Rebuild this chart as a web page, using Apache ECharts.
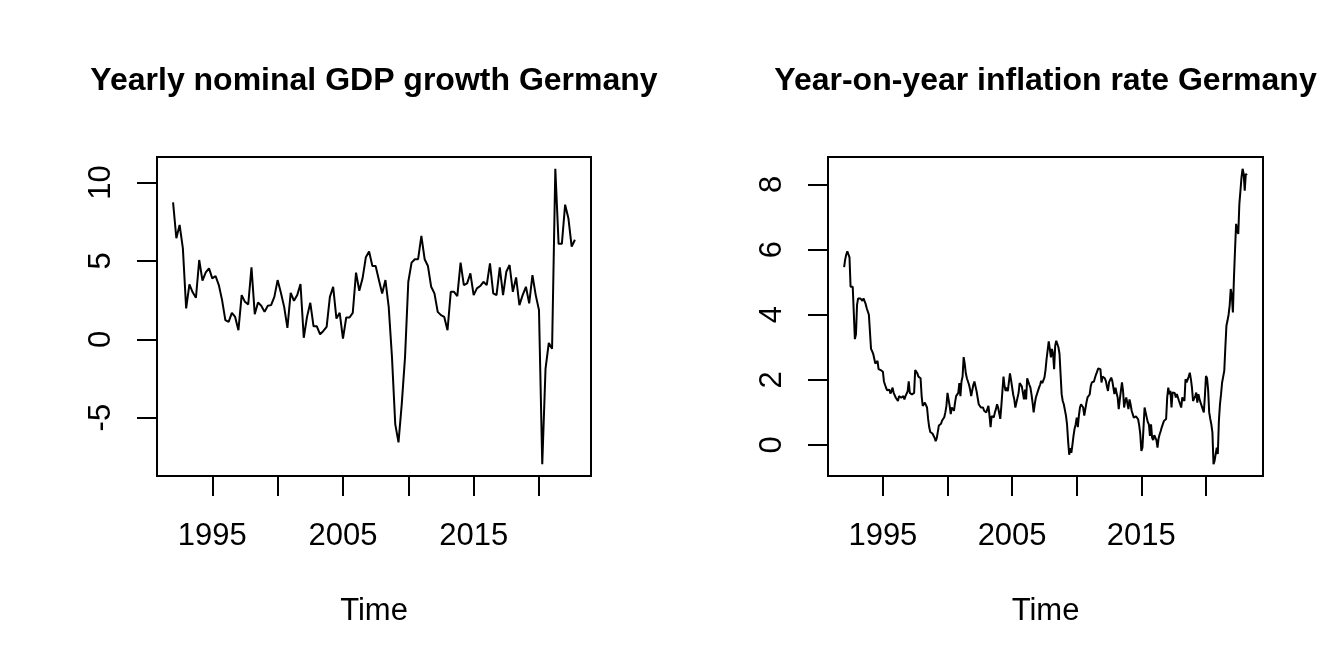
<!DOCTYPE html>
<html>
<head>
<meta charset="utf-8">
<script src="https://cdn.jsdelivr.net/npm/echarts@6/dist/echarts.min.js"></script>
<style>
html,body{margin:0;padding:0;background:#fff;}
#chart{width:1344px;height:672px;}
</style>
</head>
<body>
<div id="chart"></div>
<script>
// ---- Data ----
var titles = ["Yearly nominal GDP growth Germany", "Year-on-year inflation rate Germany"];
var xAxisTitle = "Time";

// Quarterly nominal GDP growth, 1992 Q1 .. 2022 Q4
var gdpStart = 1992;
var gdpFreq = 4;
var gdpValues = [
  8.74, 6.45, 7.3, 5.8,
  1.97, 3.5, 3.0, 2.65,
  5.06, 3.74, 4.27, 4.53,
  3.89, 4.04, 3.46, 2.5,
  1.22, 1.11, 1.69, 1.43,
  0.58, 2.82, 2.39, 2.22,
  4.59, 1.6, 2.35, 2.14,
  1.75, 2.14, 2.18, 2.71,
  3.78, 2.97, 2.07, 0.73,
  2.97, 2.46, 2.82, 3.53,
  0.1, 1.43, 2.33, 0.83,
  0.83, 0.32, 0.53, 0.79,
  2.71, 3.35, 1.32, 1.69,
  0.04, 1.39, 1.39, 1.69,
  4.25, 3.1, 3.89, 5.23,
  5.6, 4.68, 4.68, 3.78,
  2.93, 3.78, 2.07, -1.13,
  -5.41, -6.58, -4.12, -1.13,
  3.67, 4.89, 5.11, 5.11,
  6.6, 5.11, 4.68, 3.35,
  2.93, 1.75, 1.54, 1.43,
  0.58, 3.03, 3.03, 2.76,
  4.89, 3.46, 3.57, 4.21,
  2.82, 3.25, 3.4, 3.67,
  3.46, 4.85, 2.93, 2.82,
  4.59, 2.82, 4.31, 4.74,
  3.03, 3.95, 2.18, 2.82,
  3.35, 2.29, 4.1, 2.82,
  1.86, -7.97, -1.88, -0.23,
  -0.6, 10.88, 6.09, 6.09,
  8.59, 7.73, 5.92, 6.35
];

// Monthly year-on-year inflation, Jan 1992 .. Mar 2023
var inflStart = 1992;
var inflFreq = 12;
var inflValues = [
  5.46, 5.7, 5.85, 5.95, 6.0, 5.76, 4.86, 4.86, 4.86, 4.8, 3.25, 3.4,
  4.3, 4.5, 4.55, 4.5, 4.55, 4.43, 4.5, 4.45, 4.33, 4.2, 4.1, 4.0,
  4.0, 2.95, 2.88, 2.8, 2.65, 2.5, 2.45, 2.58, 2.33, 2.3, 2.3, 2.28,
  2.25, 1.95, 1.85, 1.75, 1.68, 1.72, 1.7, 1.58, 1.65, 1.76, 1.6, 1.55,
  1.45, 1.4, 1.35, 1.5, 1.55, 1.45, 1.5, 1.5, 1.4, 1.5, 1.55, 1.65,
  1.95, 1.6, 1.55, 1.55, 1.5, 1.6, 2.3, 2.3, 2.2, 2.1, 2.1, 2.05,
  1.5, 1.2, 1.15, 1.3, 1.35, 1.15, 0.8, 0.55, 0.4, 0.45, 0.35, 0.3,
  0.22, 0.12, 0.2, 0.4, 0.6, 0.55, 0.65, 0.75, 0.8, 0.85, 1.0, 1.2,
  1.6, 1.55, 1.2, 0.95, 1.15, 1.2, 1.05, 1.3, 1.5, 1.55, 1.6, 1.9,
  1.5, 1.95, 2.1, 2.7, 2.5, 2.2, 2.05, 2.0, 1.85, 1.7, 1.5, 1.45,
  1.85, 1.95, 1.8, 1.65, 1.45, 1.25, 1.2, 1.15, 1.2, 1.15, 1.05, 1.1,
  1.0, 0.94, 1.2, 0.9, 0.55, 0.89, 0.89, 0.85, 1.0, 1.1, 1.25, 1.15,
  1.1, 0.8, 1.2, 1.66, 2.1, 1.8, 1.66, 1.76, 1.65, 1.6, 2.2, 2.0,
  1.97, 1.55, 1.4, 1.15, 1.3, 1.35, 1.6, 1.9, 1.85, 1.8, 1.6, 1.4,
  1.7, 1.4, 2.05, 1.95, 1.85, 1.76, 1.55, 1.3, 1.0, 1.25, 1.45, 1.5,
  1.66, 1.76, 1.85, 1.97, 1.9, 1.95, 2.07, 2.3, 2.64, 2.7, 3.18, 2.95,
  2.69, 2.95, 2.8, 2.33, 3.05, 3.2, 3.15, 3.0, 2.8, 2.17, 1.56, 1.35,
  1.25, 1.3, 0.9, 0.63, 0.12, -0.3, -0.1, -0.24, 0.0, 0.28, 0.5, 0.63,
  0.84, 0.55, 0.9, 1.15, 1.25, 1.2, 1.15, 0.9, 1.1, 1.3, 1.46, 1.5,
  1.55, 1.8, 1.92, 1.9, 1.95, 2.07, 2.17, 2.2, 2.35, 2.3, 2.33, 1.92,
  2.1, 2.07, 2.05, 1.97, 1.8, 1.66, 1.92, 2.0, 2.07, 1.97, 1.92, 1.56,
  1.76, 1.6, 1.46, 1.1, 1.4, 1.66, 1.92, 1.66, 1.15, 1.35, 1.46, 1.51,
  1.1, 1.4, 1.25, 1.05, 1.1, 0.84, 0.9, 0.88, 0.87, 0.79, 0.6, 0.33,
  -0.18, -0.08, 0.53, 1.15, 1.0, 0.84, 0.7, 0.63, 0.28, 0.63, 0.22, 0.15,
  0.3, 0.33, 0.15, -0.08, 0.2, 0.33, 0.43, 0.55, 0.58, 0.74, 0.74, 0.8,
  1.46, 1.76, 1.56, 1.66, 1.15, 1.61, 1.66, 1.6, 1.46, 1.56, 1.5, 1.35,
  1.25, 1.15, 1.46, 1.4, 1.35, 2.02, 1.92, 1.92, 2.1, 2.22, 2.02, 1.76,
  1.35, 1.35, 1.5, 1.61, 1.3, 1.56, 1.41, 1.3, 1.25, 1.1, 1.0, 1.5,
  2.12, 2.05, 1.7, 1.0, 0.8, 0.63, 0.38, -0.59, -0.49, -0.28, -0.08, -0.28,
  0.74, 1.25, 1.56, 1.92, 2.1, 2.28, 3.0, 3.66, 3.82, 4.0, 4.28, 4.79,
  4.6, 4.07, 5.15, 6.0, 6.79, 6.6, 6.48, 7.4, 7.8, 8.22, 8.48, 8.33,
  7.81, 8.33, 8.28
];

// Tick positions / labels
var xTickValues = [1995, 2000, 2005, 2010, 2015, 2020];
var xLabelValues = [1995, 2005, 2015];
var gdpYTicks = [-5, 0, 5, 10];
var inflYTicks = [0, 2, 4, 6, 8];

// ---- Build ----
function toPairs(start, freq, vals) {
  return vals.map(function (v, i) { return [start + i / freq, v]; });
}
function extRange(arr) { // R-style 4% extension
  var lo = Math.min.apply(null, arr), hi = Math.max.apply(null, arr);
  var d = (hi - lo) * 0.04;
  return [lo - d, hi + d];
}
var gdpData = toPairs(gdpStart, gdpFreq, gdpValues);
var inflData = toPairs(inflStart, inflFreq, inflValues);
var gdpX = extRange(gdpData.map(function (p) { return p[0]; }));
var inflX = extRange(inflData.map(function (p) { return p[0]; }));
var gdpY = extRange(gdpValues);
var inflY = extRange(inflValues);

var FONT = '"Liberation Sans", Arial, Helvetica, sans-serif';
var grids = [
  { left: 157, top: 157, width: 434, height: 319 },
  { left: 828, top: 157, width: 435, height: 319 }
];

function makeX(idx, range) {
  return {
    type: 'value', gridIndex: idx, min: range[0], max: range[1], position: 'bottom',
    axisLine: { show: false, onZero: false },
    splitLine: { show: false },
    axisTick: { show: true, customValues: xTickValues, length: 20, inside: false,
      lineStyle: { color: '#000', width: 2 } },
    axisLabel: { show: true, customValues: xLabelValues, margin: 45, color: '#000',
      fontSize: 31, fontFamily: FONT, formatter: function (v) { return String(v); } }
  };
}
function makeY(idx, range, ticks) {
  return {
    type: 'value', gridIndex: idx, min: range[0], max: range[1], position: 'left',
    axisLine: { show: false, onZero: false },
    splitLine: { show: false },
    axisTick: { show: true, customValues: ticks, length: 20, inside: false,
      lineStyle: { color: '#000', width: 2 } },
    axisLabel: { show: true, customValues: ticks, rotate: 90, margin: 40, color: '#000',
      fontSize: 31, fontFamily: FONT, formatter: function (v) { return String(v); } }
  };
}

var graphics = [];
[0, 1].forEach(function (i) {
  var g = grids[i];
  var cx = g.left + g.width / 2;
  graphics.push({ type: 'text', x: cx, y: 81, style: { text: titles[i], fill: '#000',
    font: 'bold 32px ' + FONT, textAlign: 'center', textVerticalAlign: 'middle' } });
  graphics.push({ type: 'text', x: cx, y: 611, style: { text: xAxisTitle, fill: '#000',
    font: '31px ' + FONT, textAlign: 'center', textVerticalAlign: 'middle' } });
});

var chart = echarts.init(document.getElementById('chart'), null, { renderer: 'canvas' });
chart.setOption({
  animation: false,
  backgroundColor: '#fff',
  grid: grids.map(function (g) {
    return Object.assign({ show: true, borderColor: '#000', borderWidth: 2,
      backgroundColor: 'transparent', containLabel: false }, g);
  }),
  xAxis: [makeX(0, gdpX), makeX(1, inflX)],
  yAxis: [makeY(0, gdpY, gdpYTicks), makeY(1, inflY, inflYTicks)],
  series: [
    { type: 'line', xAxisIndex: 0, yAxisIndex: 0, data: gdpData, showSymbol: false,
      lineStyle: { color: '#000', width: 2 }, itemStyle: { color: '#000' } },
    { type: 'line', xAxisIndex: 1, yAxisIndex: 1, data: inflData, showSymbol: false,
      lineStyle: { color: '#000', width: 2 }, itemStyle: { color: '#000' } }
  ],
  graphic: graphics
});
</script>
</body>
</html>
